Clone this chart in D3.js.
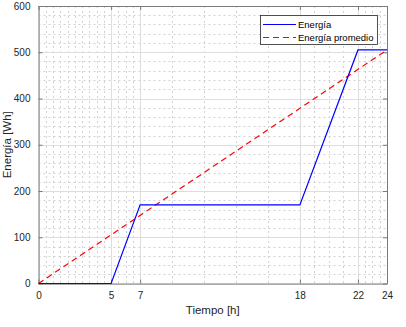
<!DOCTYPE html>
<html><head><meta charset="utf-8">
<script src="https://cdn.jsdelivr.net/npm/d3@7"></script>
<style>body{margin:0;background:#fff}svg{display:block}text{font-family:"Liberation Sans",Arial,sans-serif}</style>
</head><body><svg id="c" width="406" height="327"></svg>
<script>
const energiaX = [0, 5, 7, 18, 22, 24];
const energiaY = [0, 0, 170, 170, 505, 505];
const promedioX = [0, 24];
const promedioY = [0, 505];
const xTicks = [0, 5, 7, 18, 22, 24];
const yTicks = [0, 100, 200, 300, 400, 500, 600];
const xMinor = [0.5,1,1.5,2,2.5,3,3.5,4,4.5,5.5,6,6.5,9.2,11.4,13.6,15.8,19,20,21,22.5,23,23.5];
const yMinor = [20,40,60,80,120,140,160,180,220,240,260,280,320,340,360,380,420,440,460,480,520,540,560,580];
const labels = {x: "Tiempo [h]", y: "Energía [Wh]", s1: "Energía", s2: "Energía promedio"};

const svg = d3.select("#c");
const L = 38.5, R = 387, T = 6, B = 283.5;
const x = d3.scaleLinear().domain([0, 24]).range([L, R]);
const y = d3.scaleLinear().domain([0, 600]).range([B, T]);
const g = svg.append("g");

// minor grid
g.selectAll(".mx").data(xMinor).join("line")
  .attr("x1", d => Math.round(x(d)) + 0.5).attr("x2", d => Math.round(x(d)) + 0.5)
  .attr("y1", T).attr("y2", B).attr("stroke", "#d2d2d2").attr("stroke-dasharray", "2,3").attr("stroke-width", 1);
g.selectAll(".my").data(yMinor).join("line")
  .attr("y1", d => Math.round(y(d)) + 0.5).attr("y2", d => Math.round(y(d)) + 0.5)
  .attr("x1", L).attr("x2", R).attr("stroke", "#d2d2d2").attr("stroke-dasharray", "2,3").attr("stroke-width", 1);
// major grid
g.selectAll(".gx").data(xTicks).join("line")
  .attr("x1", d => Math.round(x(d)) + 0.5).attr("x2", d => Math.round(x(d)) + 0.5)
  .attr("y1", T).attr("y2", B).attr("stroke", "#dedede").attr("stroke-width", 1);
g.selectAll(".gy").data(yTicks).join("line")
  .attr("y1", d => Math.round(y(d)) + 0.5).attr("y2", d => Math.round(y(d)) + 0.5)
  .attr("x1", L).attr("x2", R).attr("stroke", "#dedede").attr("stroke-width", 1);

// axes
const axB = d3.axisBottom(x).tickValues(xTicks).tickSizeInner(-4).tickSizeOuter(0).tickPadding(8).tickFormat(d3.format("d"));
const axT = d3.axisTop(x).tickValues(xTicks).tickSizeInner(-4).tickSizeOuter(0).tickFormat("");
const axL = d3.axisLeft(y).tickValues(yTicks).tickSizeInner(-4).tickSizeOuter(0).tickPadding(8).tickFormat(d3.format("d"));
const axR = d3.axisRight(y).tickValues(yTicks).tickSizeInner(-4).tickSizeOuter(0).tickFormat("");
function style(sel) {
  sel.selectAll("path,line").attr("stroke", "#7a7a7a");
  sel.selectAll("text").attr("fill", "#262626").attr("font-size", "10px").attr("font-family", '"Liberation Sans",Arial,sans-serif');
}
svg.append("g").attr("transform", `translate(0,${B})`).call(axB).call(style);
svg.append("g").attr("transform", `translate(0,${T})`).call(axT).call(style);
svg.append("g").attr("transform", `translate(${L},0)`).call(axL).call(style);
svg.append("g").attr("transform", `translate(${R},0)`).call(axR).call(style);

// lines
const line = d3.line().x(d => x(d[0])).y(d => y(d[1]));
svg.append("path").datum(promedioX.map((v, i) => [v, promedioY[i]]))
  .attr("d", line).attr("fill", "none").attr("stroke", "#ff0000").attr("stroke-width", 1.2).attr("stroke-dasharray", "6,4");
svg.append("path").datum(energiaX.map((v, i) => [v, energiaY[i]]))
  .attr("d", line).attr("fill", "none").attr("stroke", "#0000ff").attr("stroke-width", 1.2);

// labels
svg.append("text").attr("x", (L + R) / 2).attr("y", 314).attr("text-anchor", "middle")
  .attr("font-size", "11.5px").attr("fill", "#262626").text(labels.x);
svg.append("text").attr("transform", `translate(11,${(T + B) / 2}) rotate(-90)`).attr("text-anchor", "middle")
  .attr("font-size", "11.5px").attr("fill", "#262626").text(labels.y);

// legend
const lg = svg.append("g");
lg.append("rect").attr("x", 260.5).attr("y", 15.5).attr("width", 117).attr("height", 29)
  .attr("fill", "#fff").attr("stroke", "#262626").attr("stroke-width", 0.8);
const items = [{t: labels.s1, c: "#0000ff", d: null, yy: 24.5}, {t: labels.s2, c: "#ff0000", d: "6,4", yy: 37.5}];
items.forEach(it => {
  lg.append("line").attr("x1", 263).attr("x2", 296).attr("y1", it.yy).attr("y2", it.yy)
    .attr("stroke", it.c).attr("stroke-width", 1.2).attr("stroke-dasharray", it.d);
  lg.append("text").attr("x", 298).attr("y", it.yy + 3.5).attr("font-size", "9.5px").attr("fill", "#000").text(it.t);
});
</script></body></html>
